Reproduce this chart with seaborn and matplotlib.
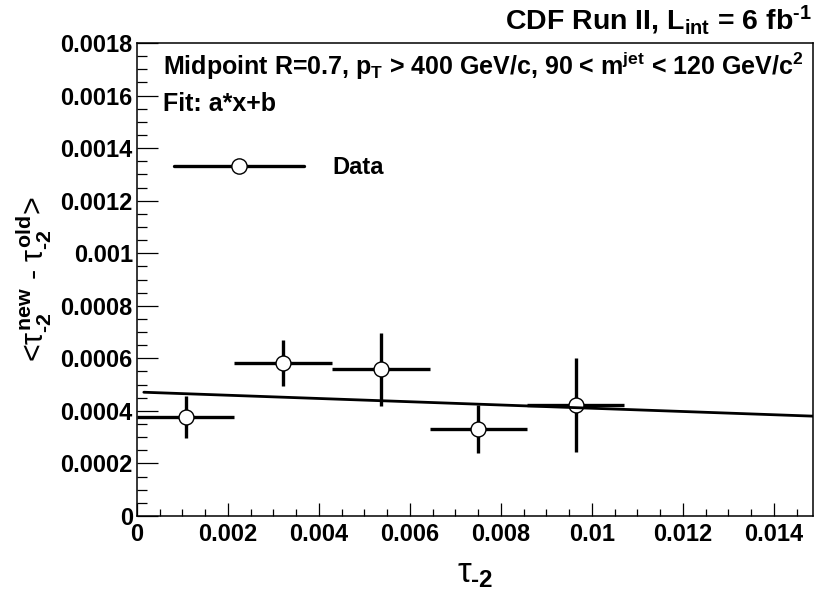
import matplotlib
matplotlib.use("Agg")
import pandas as pd
import matplotlib.pyplot as plt
import seaborn as sns
from matplotlib.lines import Line2D
from matplotlib.ticker import FixedLocator, FixedFormatter, MultipleLocator

# data
tau_center = [0.00107, 0.00321, 0.00536, 0.00750, 0.00964]
tau_halfwidth = [0.00107, 0.00107, 0.00107, 0.00107, 0.00107]
delta_mean = [0.000375, 0.000583, 0.000558, 0.000332, 0.000423]
delta_err = [0.000080, 0.000087, 0.000138, 0.000092, 0.000178]
fit_x = [0.00015, 0.01486]
fit_y = [0.000471, 0.000380]

xticks = [0, 0.002, 0.004, 0.006, 0.008, 0.010, 0.012, 0.014]
xticklabels = ["0", "0.002", "0.004", "0.006", "0.008", "0.01", "0.012", "0.014"]
yticks = [0, 0.0002, 0.0004, 0.0006, 0.0008, 0.0010, 0.0012, 0.0014, 0.0016, 0.0018]
yticklabels = ["0", "0.0002", "0.0004", "0.0006", "0.0008", "0.001",
               "0.0012", "0.0014", "0.0016", "0.0018"]

df = pd.DataFrame({"tau": tau_center, "delta": delta_mean,
                   "xerr": tau_halfwidth, "yerr": delta_err})
fit = pd.DataFrame({"tau": fit_x, "delta": fit_y})

# style
sns.set_theme(style="white")
plt.rcParams["font.family"] = ["Liberation Sans", "DejaVu Sans"]
plt.rcParams["font.weight"] = "bold"
plt.rcParams["text.color"] = "black"
plt.rcParams["axes.labelcolor"] = "black"
plt.rcParams["xtick.color"] = "black"
plt.rcParams["ytick.color"] = "black"
plt.rcParams["mathtext.fontset"] = "custom"
plt.rcParams["mathtext.rm"] = "Liberation Sans:weight=bold"
plt.rcParams["mathtext.bf"] = "Liberation Sans:weight=bold"
plt.rcParams["mathtext.it"] = "Liberation Sans:weight=normal"

HY = "\u2010"  # short hyphen like ROOT's "-2"
TAU = r"\mathit{\tau}"  # thin tau (ROOT symbol font)

fig = plt.figure(figsize=(8.14, 5.92), dpi=100)
ax = fig.add_axes([137 / 814, 76 / 592, 676 / 814, 473 / 592])

# error bars + points
ax.errorbar(df["tau"], df["delta"], xerr=df["xerr"], yerr=df["yerr"],
            fmt="none", ecolor="black", elinewidth=2.4, capsize=0, zorder=2)
sns.scatterplot(data=df, x="tau", y="delta", ax=ax, marker="o", s=115,
                facecolor="white", edgecolor="black", linewidth=1.0, zorder=3)
# fit line a*x+b
sns.lineplot(data=fit, x="tau", y="delta", ax=ax, color="black",
             linewidth=2.0, zorder=4)

ax.set_xlim(0, 0.01486)
ax.set_ylim(0, 0.0018)
ax.xaxis.set_major_locator(FixedLocator(xticks))
ax.xaxis.set_major_formatter(FixedFormatter(xticklabels))
ax.yaxis.set_major_locator(FixedLocator(yticks))
ax.yaxis.set_major_formatter(FixedFormatter(yticklabels))
ax.xaxis.set_minor_locator(MultipleLocator(0.0005))
ax.yaxis.set_minor_locator(MultipleLocator(0.00005))

ax.tick_params(axis="both", which="both", direction="in", colors="black",
               width=0.9, labelsize=17)
ax.tick_params(axis="x", which="major", length=9.5, pad=5)
ax.tick_params(axis="x", which="minor", length=5)
ax.tick_params(axis="y", which="major", length=15, pad=3)
ax.tick_params(axis="y", which="minor", length=7.5)
ax.tick_params(left=True, bottom=True, which="both")
for lab in ax.get_xticklabels() + ax.get_yticklabels():
    lab.set_fontweight("bold")
for sp in ax.spines.values():
    sp.set_color("black")
    sp.set_linewidth(1.1)

ax.set_xlabel("$" + TAU + r"_{\mathbf{" + HY + r"2}}$", fontsize=25, labelpad=8)
ax.set_ylabel("<$" + TAU + r"^{\mathbf{new}}_{\mathbf{" + HY + r"2}}$ - $" + TAU
              + r"^{\mathbf{old}}_{\mathbf{" + HY + r"2}}$>", fontsize=22, labelpad=5)

ax.text(0.0385, 0.932,
        r"Midpoint R=0.7, p$_{\mathbf{T}}$ > 400 GeV/c, 90 < m$^{\mathbf{jet}}$ < 120 GeV/c$^{\mathbf{2}}$",
        transform=ax.transAxes, fontsize=18, fontweight="bold", va="baseline")
ax.text(0.0385, 0.856, "Fit: a*x+b", transform=ax.transAxes,
        fontsize=18, fontweight="bold", va="baseline")

handle = Line2D([], [], color="black", linewidth=2.4, marker="o", markersize=11,
                markerfacecolor="white", markeredgecolor="black", markeredgewidth=1.0)
ax.legend(handles=[handle], labels=["Data"], loc="center left",
          bbox_to_anchor=(0.0547, 0.736), frameon=False,
          handlelength=5.5, handletextpad=1.2, borderpad=0, borderaxespad=0,
          prop={"weight": "bold", "size": 17})

fig.text(812 / 814, 1 - 30 / 592,
         r"CDF Run II, L$_{\mathbf{int}}$ = 6 fb$^{\mathbf{" + HY + r"1}}$",
         ha="right", va="baseline", fontsize=20.5, fontweight="bold")

fig.savefig("out.png", dpi=100)
